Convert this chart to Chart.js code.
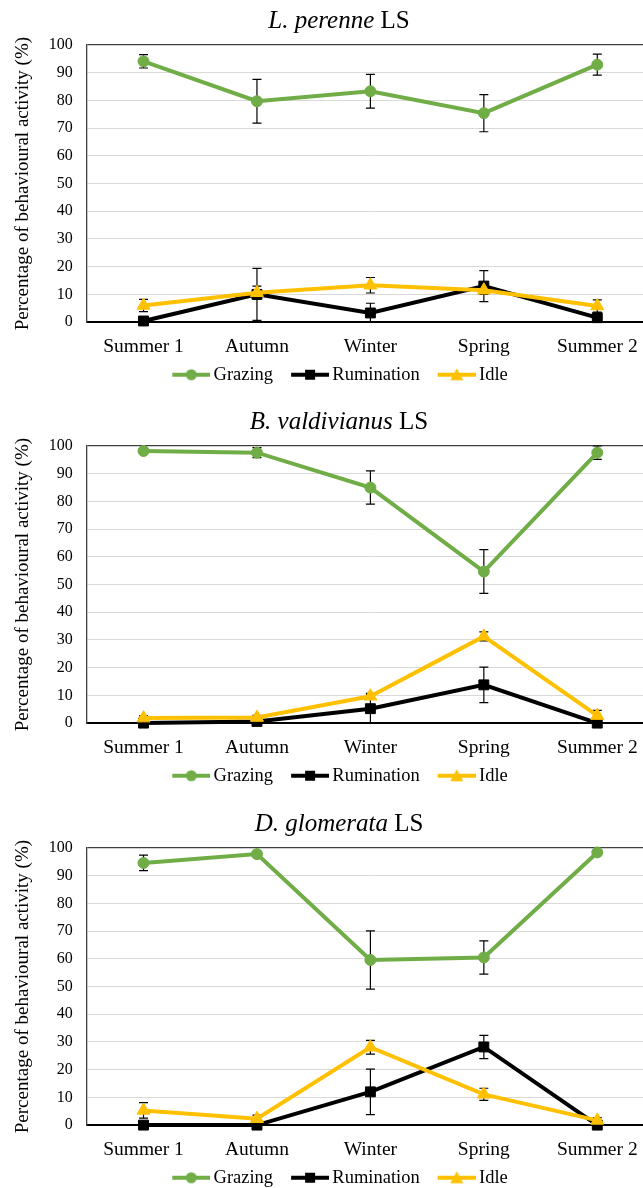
<!DOCTYPE html>
<html>
<head>
<meta charset="utf-8">
<script src="https://cdn.jsdelivr.net/npm/chart.js@4.4.1/dist/chart.umd.min.js"></script>
<style>
    html, body { margin: 0; padding: 0; background: #fff; overflow: hidden; width: 643px; height: 1188px; }
    .panel { position: absolute; left: 0; width: 678px; height: 400px; }
</style>
</head>
<body>
<div class="panel" style="top: 0px;"><canvas id="chart-perenne" width="678" height="400"></canvas></div>
<div class="panel" style="top: 401px;"><canvas id="chart-valdivianus" width="678" height="400"></canvas></div>
<div class="panel" style="top: 803px;"><canvas id="chart-glomerata" width="678" height="400"></canvas></div>
<script>
const seasons = ['Summer 1', 'Autumn', 'Winter', 'Spring', 'Summer 2'];
const yTicks = [0, 10, 20, 30, 40, 50, 60, 70, 80, 90, 100];

// L. perenne LS
const perenneGrazing = [94.1, 79.7, 83.3, 75.4, 92.9];
const perenneGrazingErr = [2.4, 7.9, 6.1, 6.7, 3.8];
const perenneRumination = [0.4, 10.0, 3.3, 13.0, 1.6];
const perenneRuminationErr = [0.5, 9.4, 3.5, 5.6, 1.0];
const perenneIdle = [6.0, 10.6, 13.3, 11.5, 5.8];
const perenneIdleErr = [2.2, 2.4, 2.8, 1.5, 2.2];

// B. valdivianus LS
const valdivianusGrazing = [98.2, 97.6, 85.0, 54.7, 97.6];
const valdivianusGrazingErr = [0.8, 1.8, 6.0, 7.9, 2.4];
const valdivianusRumination = [0.0, 0.6, 5.2, 13.8, 0.0];
const valdivianusRuminationErr = [0.3, 0.8, 5.2, 6.4, 0.3];
const valdivianusIdle = [1.8, 2.0, 9.7, 31.3, 2.7];
const valdivianusIdleErr = [0.8, 0.8, 1.0, 1.6, 1.9];

// D. glomerata LS
const glomerataGrazing = [94.6, 97.8, 59.6, 60.5, 98.4];
const glomerataGrazingErr = [2.8, 1.0, 10.5, 6.0, 0.8];
const glomerataRumination = [0.0, 0.0, 12.0, 28.2, 0.0];
const glomerataRuminationErr = [0.5, 0.3, 8.2, 4.2, 0.3];
const glomerataIdle = [5.3, 2.3, 28.1, 11.1, 1.7];
const glomerataIdleErr = [2.8, 1.3, 2.5, 2.2, 1.0];

const FONT = '"Liberation Serif", "Times New Roman", serif';
const GREEN = '#70AD47';
const BLACK = '#000000';
const YELLOW = '#FFC000';

// legend swatch: line with the marker in the middle, like Excel.
// 20px of empty space on the left keeps the gap before the text small.
function swatch(color, shape) {
    var c = document.createElement('canvas');
    c.width = 58;
    c.height = 14;
    var g = c.getContext('2d');
    g.strokeStyle = color;
    g.fillStyle = color;
    g.lineWidth = 4;
    g.beginPath();
    g.moveTo(20, 7);
    g.lineTo(58, 7);
    g.stroke();
    g.beginPath();
    if (shape === 'circle') {
        g.arc(39, 7, 5.5, 0, Math.PI * 2);
    } else if (shape === 'rect') {
        g.rect(34, 2, 10, 10);
    } else {
        g.moveTo(39, 0.5);
        g.lineTo(45.5, 12.5);
        g.lineTo(32.5, 12.5);
        g.closePath();
    }
    g.fill();
    return c;
}

const errorBars = {
    id: 'errorBars',
    beforeDatasetsDraw(chart) {
        var ctx = chart.ctx;
        var y = chart.scales.y;
        var area = chart.chartArea;
        ctx.save();
        ctx.beginPath();
        ctx.rect(area.left - 10, area.top - 1, area.right - area.left + 20, area.bottom - area.top + 2);
        ctx.clip();
        ctx.strokeStyle = '#000';
        ctx.lineWidth = 1.2;
        chart.data.datasets.forEach(function (ds, i) {
            var meta = chart.getDatasetMeta(i);
            meta.data.forEach(function (pt, j) {
                var v = ds.data[j];
                var e = ds.errors[j];
                var top = y.getPixelForValue(v + e);
                var bot = y.getPixelForValue(v - e);
                ctx.beginPath();
                ctx.moveTo(pt.x, top);
                ctx.lineTo(pt.x, bot);
                ctx.moveTo(pt.x - 4.5, top);
                ctx.lineTo(pt.x + 4.5, top);
                ctx.moveTo(pt.x - 4.5, bot);
                ctx.lineTo(pt.x + 4.5, bot);
                ctx.stroke();
            });
        });
        ctx.restore();
    }
};

const speciesTitle = {
    id: 'speciesTitle',
    afterDraw(chart, args, opts) {
        var ctx = chart.ctx;
        ctx.save();
        ctx.fillStyle = '#000';
        ctx.textBaseline = 'alphabetic';
        ctx.font = 'italic 25px ' + FONT;
        var part1 = opts.italic + ' ';
        var w1 = ctx.measureText(part1).width;
        ctx.font = '25px ' + FONT;
        var w2 = ctx.measureText(opts.plain).width;
        var x = chart.width / 2 - (w1 + w2) / 2;
        ctx.font = 'italic 25px ' + FONT;
        ctx.fillText(part1, x, opts.baseline);
        ctx.font = '25px ' + FONT;
        ctx.fillText(opts.plain, x + w1, opts.baseline);
        ctx.restore();
    }
};

function makeChart(id, italic, baseline, grazing, grazingErr, rumination, ruminationErr, idle, idleErr) {
    var config = {
        type: 'line',
        data: {
            labels: seasons,
            datasets: [
                {
                    label: 'Grazing',
                    data: grazing,
                    errors: grazingErr,
                    borderColor: GREEN,
                    backgroundColor: GREEN,
                    borderWidth: 4,
                    pointStyle: 'circle',
                    pointRadius: 5.5,
                    pointBorderWidth: 1,
                    order: 3,
                    clip: false,
                    swatch: swatch(GREEN, 'circle')
                },
                {
                    label: 'Rumination',
                    data: rumination,
                    errors: ruminationErr,
                    borderColor: BLACK,
                    backgroundColor: BLACK,
                    borderWidth: 4,
                    pointStyle: 'rect',
                    pointRadius: 7,
                    pointBorderWidth: 1,
                    order: 2,
                    clip: false,
                    swatch: swatch(BLACK, 'rect')
                },
                {
                    label: 'Idle',
                    data: idle,
                    errors: idleErr,
                    borderColor: YELLOW,
                    backgroundColor: YELLOW,
                    borderWidth: 4,
                    pointStyle: 'triangle',
                    pointRadius: 7.5,
                    pointBorderWidth: 1,
                    order: 1,
                    clip: false,
                    swatch: swatch(YELLOW, 'triangle')
                }
            ]
        },
        options: {
            responsive: false,
            animation: false,
            layout: {
                padding: {top: 45, right: 24, left: 12, bottom: 6}
            },
            plugins: {
                speciesTitle: {italic: italic, plain: 'LS', baseline: baseline},
                tooltip: {enabled: false},
                legend: {
                    position: 'bottom',
                    labels: {
                        usePointStyle: true,
                        pointStyleWidth: 46,
                        padding: 4,
                        color: '#000',
                        font: {family: FONT, size: 18.5},
                        generateLabels: function (chart) {
                            return chart.data.datasets.map(function (ds, i) {
                                return {
                                    text: ds.label,
                                    pointStyle: ds.swatch,
                                    fillStyle: ds.borderColor,
                                    strokeStyle: 'rgba(0,0,0,0)',
                                    lineWidth: 0,
                                    fontColor: '#000',
                                    hidden: false,
                                    datasetIndex: i
                                };
                            });
                        }
                    }
                }
            },
            scales: {
                x: {
                    offset: true,
                    grid: {display: false, drawTicks: false},
                    border: {display: true, color: '#000', width: 2},
                    ticks: {color: '#000', padding: 13, font: {family: FONT, size: 19.5}},
                    // pull the legend up closer to the category labels
                    afterFit: function (axis) {
                        axis.height -= 10;
                    }
                },
                y: {
                    min: 0,
                    max: 100,
                    afterBuildTicks: function (axis) {
                        axis.ticks = yTicks.map(function (v) { return {value: v}; });
                    },
                    grid: {
                        drawTicks: false,
                        color: function (c) { return c.tick && c.tick.value === 100 ? '#404040' : '#d9d9d9'; },
                        lineWidth: function (c) { return c.tick && c.tick.value === 100 ? 1.3 : 1; }
                    },
                    border: {display: true, color: '#404040', width: 1.3},
                    ticks: {color: '#000', padding: 14, font: {family: FONT, size: 16}},
                    title: {
                        display: true,
                        text: 'Percentage of behavioural activity (%)',
                        color: '#000',
                        font: {family: FONT, size: 19},
                        padding: {top: 0, bottom: 0}
                    }
                }
            }
        },
        plugins: [errorBars, speciesTitle]
    };

    var ctx = document.getElementById(id).getContext('2d');
    return new Chart(ctx, config);
}

window.perenneChart = makeChart('chart-perenne', 'L. perenne', 28,
    perenneGrazing, perenneGrazingErr, perenneRumination, perenneRuminationErr, perenneIdle, perenneIdleErr);
window.valdivianusChart = makeChart('chart-valdivianus', 'B. valdivianus', 28,
    valdivianusGrazing, valdivianusGrazingErr, valdivianusRumination, valdivianusRuminationErr, valdivianusIdle, valdivianusIdleErr);
window.glomerataChart = makeChart('chart-glomerata', 'D. glomerata', 28,
    glomerataGrazing, glomerataGrazingErr, glomerataRumination, glomerataRuminationErr, glomerataIdle, glomerataIdleErr);
</script>
</body>
</html>
